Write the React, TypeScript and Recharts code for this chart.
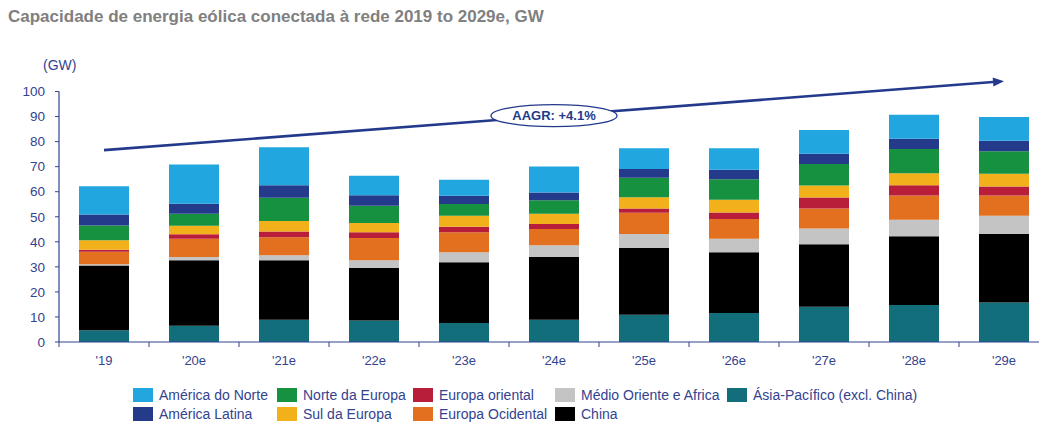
import React from "react";
import { BarChart, Bar, XAxis, YAxis, ReferenceLine } from "recharts";

const categories = ["'19", "'20e", "'21e", "'22e", "'23e", "'24e", "'25e", "'26e", "'27e", "'28e", "'29e"];

const asiaPacifico = [4.7, 6.5, 8.9, 8.6, 7.6, 8.9, 10.9, 11.6, 14.1, 14.8, 15.8];
const china = [25.8, 26.1, 23.7, 20.9, 24.2, 25.0, 26.7, 24.2, 24.9, 27.4, 27.4];
const medioOriente = [0.5, 1.3, 2.0, 3.1, 4.0, 4.7, 5.5, 5.4, 6.3, 6.6, 7.2];
const europaOcidental = [5.0, 7.3, 7.2, 8.9, 8.0, 6.5, 8.5, 7.9, 8.0, 9.7, 8.1];
const europaOriental = [0.8, 1.8, 2.3, 2.3, 2.2, 2.0, 1.7, 2.6, 4.4, 4.1, 3.6];
const sulEuropa = [3.8, 3.4, 4.2, 3.7, 4.4, 4.1, 4.5, 5.1, 4.8, 4.8, 5.1];
const norteEuropa = [5.9, 4.8, 9.3, 6.9, 4.7, 5.4, 7.8, 8.2, 8.6, 9.6, 8.9];
const americaLatina = [4.4, 4.0, 5.0, 4.2, 3.3, 3.1, 3.5, 3.8, 4.0, 4.1, 4.2];
const americaNorte = [11.3, 15.7, 15.1, 7.8, 6.4, 10.4, 8.2, 8.5, 9.5, 9.6, 9.5];

const yTicks = [0, 10, 20, 30, 40, 50, 60, 70, 80, 90, 100];
const trendStart = 76.6;
const trendEnd = 104.1;
const trendLabel = "AAGR: +4.1%";

const series = [
  { key: "asia", name: "Ásia-Pacífico (excl. China)", color: "#136e7c", values: asiaPacifico },
  { key: "china", name: "China", color: "#000000", values: china },
  { key: "medio", name: "Médio Oriente e Africa", color: "#c4c4c4", values: medioOriente },
  { key: "ocid", name: "Europa Ocidental", color: "#e2701f", values: europaOcidental },
  { key: "orient", name: "Europa oriental", color: "#b81d3a", values: europaOriental },
  { key: "sul", name: "Sul da Europa", color: "#f2b11a", values: sulEuropa },
  { key: "norte", name: "Norte da Europa", color: "#15913f", values: norteEuropa },
  { key: "latina", name: "América Latina", color: "#243a8a", values: americaLatina },
  { key: "an", name: "América do Norte", color: "#21a6e0", values: americaNorte },
];

const data = categories.map((c, i) => {
  const row: Record<string, string | number> = { cat: c };
  series.forEach((s) => {
    row[s.key] = s.values[i];
  });
  return row;
});

const legendRow1 = ["an", "norte", "orient", "medio", "asia"];
const legendRow2 = ["latina", "sul", "ocid", "china"];
const legendCols = [133, 277, 413, 555, 727];

const NAVY = "#33438f";
const FONT = "'Liberation Sans', Arial, sans-serif";

const XTick = (props: any) => {
  const { x, y, payload } = props;
  const off = payload && typeof payload.offset === "number" ? payload.offset : 45;
  return (
    <g>
      <line x1={x - off} y1={y} x2={x - off} y2={y + 5} stroke={NAVY} strokeWidth={1} />
      <text x={x} y={y + 23} textAnchor="middle" fill={NAVY} fontSize={13} fontFamily={FONT}>
        {payload.value}
      </text>
    </g>
  );
};

const TrendShape = (props: any) => {
  const { x1, y1, x2, y2 } = props;
  if ([x1, y1, x2, y2].some((v) => typeof v !== "number" || isNaN(v))) return null;
  const dx = x2 - x1;
  const dy = y2 - y1;
  const len = Math.sqrt(dx * dx + dy * dy);
  const ux = dx / len;
  const uy = dy / len;
  const ah = 11;
  const aw = 4.5;
  const bx = x2 - ux * ah;
  const by = y2 - uy * ah;
  const mx = (x1 + x2) / 2;
  const my = (y1 + y2) / 2;
  return (
    <g>
      <line x1={x1} y1={y1} x2={bx} y2={by} stroke="#233a8c" strokeWidth={2.6} />
      <polygon
        points={`${x2},${y2} ${bx - uy * aw},${by + ux * aw} ${bx + uy * aw},${by - ux * aw}`}
        fill="#233a8c"
      />
      <ellipse cx={mx} cy={my} rx={63} ry={11} fill="#ffffff" stroke="#233a8c" strokeWidth={1.3} />
      <text
        x={mx}
        y={my + 4.5}
        textAnchor="middle"
        fill="#233a8c"
        fontSize={13}
        fontWeight="bold"
        fontFamily={FONT}
      >
        {trendLabel}
      </text>
    </g>
  );
};

const byKey = (k: string) => series.find((s) => s.key === k)!;

export default function App() {
  return (
    <div
      style={{
        position: "absolute",
        left: 0,
        top: 0,
        width: 1039,
        height: 423,
        overflow: "hidden",
        background: "#ffffff",
        fontFamily: FONT,
      }}
    >
      <div
        style={{
          position: "absolute",
          left: 8,
          top: 7,
          fontSize: 17,
          fontWeight: "bold",
          color: "#808080",
          whiteSpace: "nowrap",
          lineHeight: "20px",
        }}
      >
        Capacidade de energia eólica conectada à rede 2019 to 2029e, GW
      </div>
      <div
        style={{
          position: "absolute",
          left: 43,
          top: 57,
          fontSize: 14,
          color: NAVY,
          lineHeight: "16px",
        }}
      >
        (GW)
      </div>
      <div style={{ position: "absolute", left: 0, top: 0 }}>
        <BarChart
          width={1060}
          height={423}
          data={data}
          margin={{ top: 91.5, right: 11, bottom: 61, left: 0 }}
          barSize={50}
        >
          <XAxis
            dataKey="cat"
            axisLine={{ stroke: NAVY, strokeWidth: 1.2 }}
            tickLine={false}
            tickSize={0}
            tickMargin={0}
            tick={<XTick />}
            interval={0}
            height={20}
          />
          <YAxis
            type="number"
            domain={[0, 100]}
            ticks={yTicks}
            width={59}
            interval={0}
            axisLine={{ stroke: NAVY, strokeWidth: 1.2 }}
            tickLine={{ stroke: NAVY }}
            tickSize={4}
            tickMargin={10}
            tick={{ fill: NAVY, fontSize: 13.5, fontFamily: FONT }}
          />
          {series.map((s) => (
            <Bar key={s.key} dataKey={s.key} name={s.name} stackId="a" fill={s.color} isAnimationActive={false} />
          ))}
          <ReferenceLine
            segment={[
              { x: categories[0], y: trendStart },
              { x: categories[categories.length - 1], y: trendEnd },
            ]}
            ifOverflow="visible"
            shape={<TrendShape />}
          />
        </BarChart>
      </div>
      {[legendRow1, legendRow2].map((row, ri) =>
        row.map((k, ci) => {
          const s = byKey(k);
          const top = ri === 0 ? 388 : 407;
          return (
            <div
              key={k}
              style={{
                position: "absolute",
                left: legendCols[ci],
                top,
                display: "flex",
                alignItems: "center",
                whiteSpace: "nowrap",
                height: 14,
              }}
            >
              <div style={{ width: 20, height: 14, background: s.color, marginRight: 6 }} />
              <span style={{ fontSize: 14, color: NAVY, lineHeight: "14px" }}>{s.name}</span>
            </div>
          );
        })
      )}
    </div>
  );
}
